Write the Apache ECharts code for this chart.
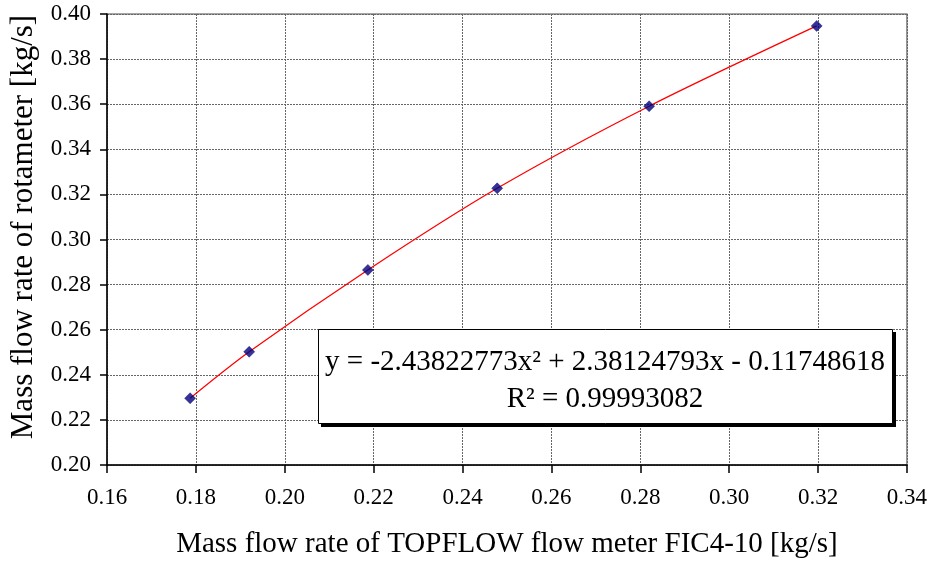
<!DOCTYPE html>
<html>
<head>
<meta charset="utf-8">
<script src="https://cdn.jsdelivr.net/npm/echarts@6/dist/echarts.min.js"></script>
<style>html,body{margin:0;padding:0;background:#fff;}#c{width:930px;height:564px;}</style>
</head>
<body>
<div id="c"></div>
<script>
var xValues = [0.1787, 0.1920, 0.2187, 0.2478, 0.2820, 0.3197];
var yValues = [0.2296, 0.2502, 0.2865, 0.3227, 0.3591, 0.3947];
var xTicks = ['0.16','0.18','0.20','0.22','0.24','0.26','0.28','0.30','0.32','0.34'];
var yTicks = ['0.20','0.22','0.24','0.26','0.28','0.30','0.32','0.34','0.36','0.38','0.40'];
var xTitle = 'Mass flow rate of TOPFLOW flow meter FIC4-10 [kg/s]';
var yTitle = 'Mass flow rate of rotameter [kg/s]';
var eqLine1 = 'y = -2.43822773x\u00B2 + 2.38124793x - 0.11748618';
var eqLine2 = 'R\u00B2 = 0.99993082';

var pts = xValues.map(function (x, i) { return [x, yValues[i]]; });
var FONT = '"Liberation Serif", "Times New Roman", serif';

var chart = echarts.init(document.getElementById('c'));
chart.setOption({
  animation: false,
  backgroundColor: '#fff',
  grid: { left: 107, right: 23, top: 14, bottom: 97, show: true, borderColor: '#888', borderWidth: 1.5, backgroundColor: 'transparent' },
  xAxis: {
    type: 'value', min: 0.16, max: 0.34, interval: 0.02,
    name: xTitle, nameLocation: 'middle', nameGap: 65,
    nameTextStyle: { fontFamily: FONT, fontSize: 29, color: '#000' },
    axisLine: { show: true, onZero: false, lineStyle: { color: '#000', width: 1.5 } },
    axisTick: { show: true, length: 8, lineStyle: { color: '#000', width: 1.5 } },
    axisLabel: { fontFamily: FONT, fontSize: 23, color: '#000', margin: 21,
      formatter: function (v) { var i = Math.round((v - 0.16) / 0.02); return xTicks[i]; } },
    splitLine: { show: true, lineStyle: { color: '#666', width: 1, type: [2, 1] } }
  },
  yAxis: {
    type: 'value', min: 0.20, max: 0.40, interval: 0.02,
    axisLine: { show: true, onZero: false, lineStyle: { color: '#000', width: 1.5 } },
    axisTick: { show: true, length: 7, lineStyle: { color: '#000', width: 1.5 } },
    axisLabel: { fontFamily: FONT, fontSize: 23, color: '#000', margin: 16,
      formatter: function (v) { var i = Math.round((v - 0.20) / 0.02); return yTicks[i]; } },
    splitLine: { show: true, lineStyle: { color: '#666', width: 1, type: [2, 1] } }
  },
  series: [
    {
      type: 'line', data: pts, smooth: 0.3, showSymbol: false,
      lineStyle: { color: '#ff0000', width: 1.3 }, z: 2, silent: true
    },
    {
      type: 'scatter', data: pts, symbol: 'diamond', symbolSize: 11,
      itemStyle: { color: '#000080', borderColor: '#000060', borderWidth: 0.5 }, z: 3
    }
  ],
  graphic: [
    { type: 'text', rotation: Math.PI / 2, x: 24, y: 227, z: 10,
      style: { text: yTitle, font: '31px ' + FONT, fill: '#000', align: 'center', verticalAlign: 'middle' } },
    { type: 'rect', shape: { x: 321, y: 332, width: 575, height: 95 }, style: { fill: '#000' }, z: 10 },
    { type: 'rect', shape: { x: 318.5, y: 329.5, width: 574, height: 94 }, style: { fill: '#fff', stroke: '#000', lineWidth: 1 }, z: 11 },
    { type: 'text', x: 605, y: 362, z: 12,
      style: { text: eqLine1, font: '29px ' + FONT, fill: '#000', align: 'center', verticalAlign: 'middle' } },
    { type: 'text', x: 605, y: 399, z: 12,
      style: { text: eqLine2, font: '29px ' + FONT, fill: '#000', align: 'center', verticalAlign: 'middle' } }
  ]
});
</script>
</body>
</html>
